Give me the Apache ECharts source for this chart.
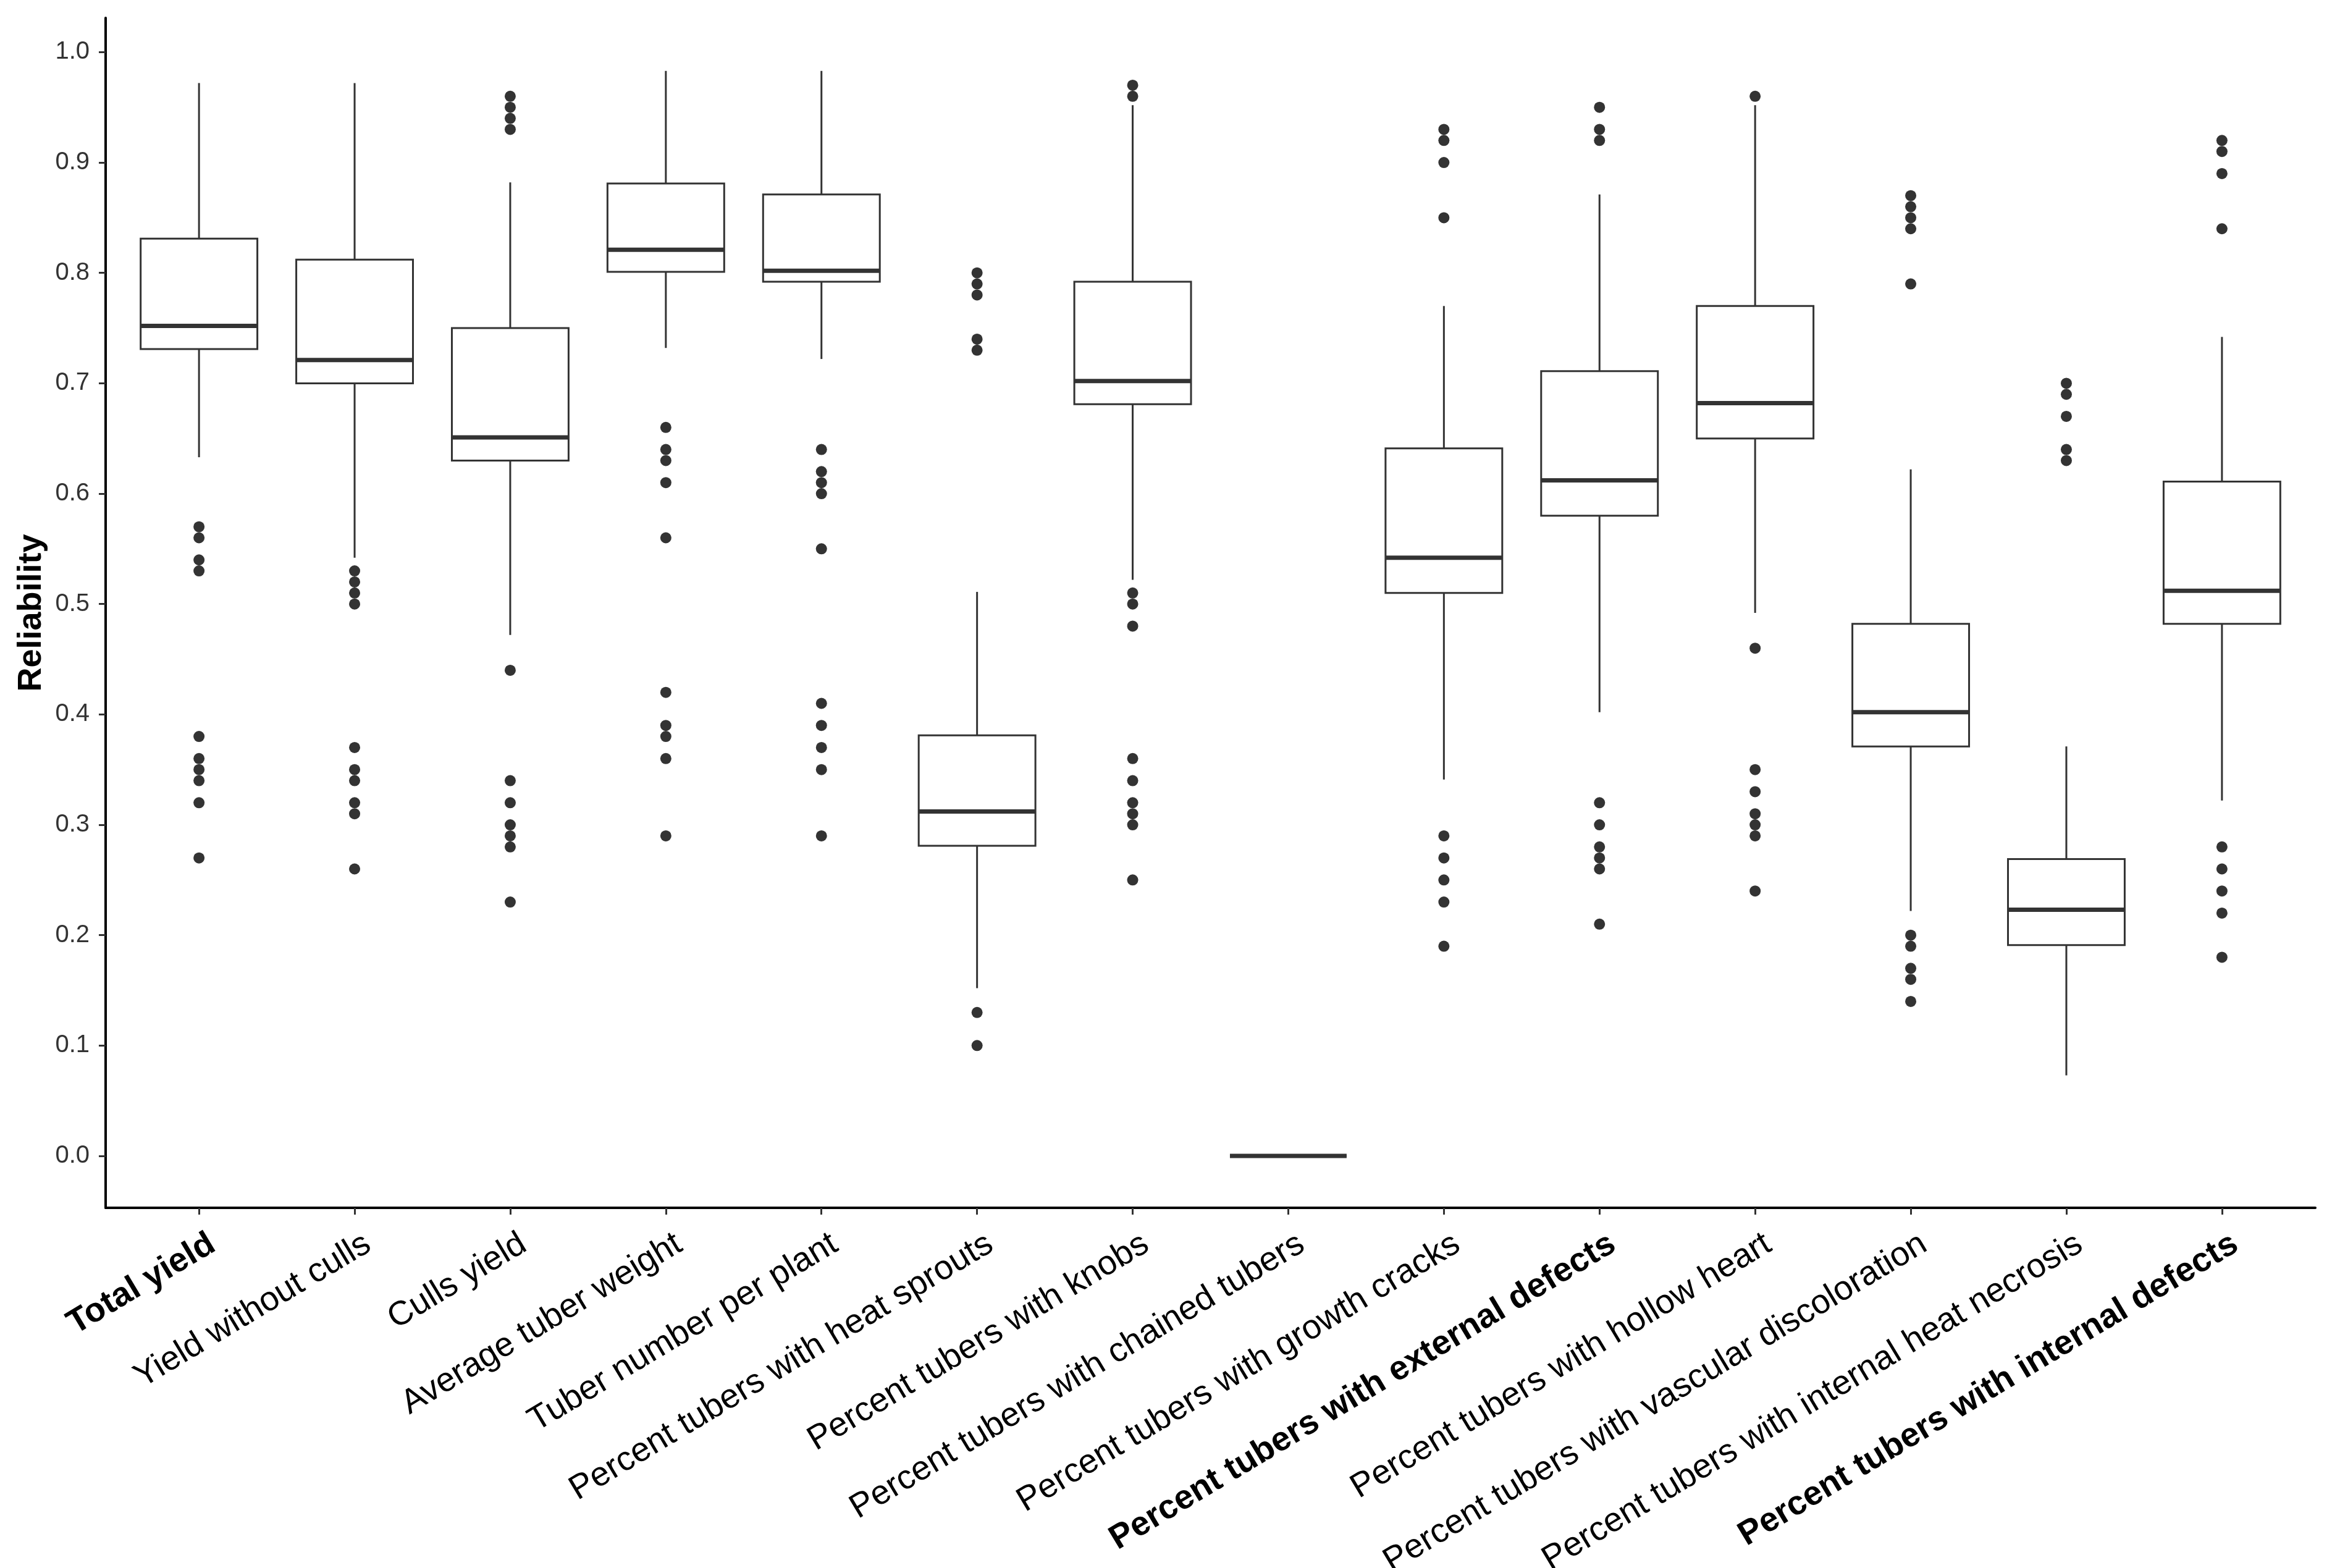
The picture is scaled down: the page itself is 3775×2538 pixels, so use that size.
<!DOCTYPE html>
<html>
<head>
<meta charset="utf-8">
<script src="https://cdn.jsdelivr.net/npm/echarts@6.0.0/dist/echarts.min.js"></script>
<style>
  html, body { margin: 0; padding: 0; background: #fff; }
  #chart { width: 3775px; height: 2538px; }
</style>
</head>
<body>
<div id="chart"></div>
<script>
// ---- Data ----
const categories = [
  'Total yield',
  'Yield without culls',
  'Culls yield',
  'Average tuber weight',
  'Tuber number per plant',
  'Percent tubers with heat sprouts',
  'Percent tubers with knobs',
  'Percent tubers with chained tubers',
  'Percent tubers with growth cracks',
  'Percent tubers with external defects',
  'Percent tubers with hollow heart',
  'Percent tubers with vascular discoloration',
  'Percent tubers with internal heat necrosis',
  'Percent tubers with internal defects'
];
const boldCategories = ['Total yield', 'Percent tubers with external defects', 'Percent tubers with internal defects'];

const whiskerLow  = [0.633, 0.542, 0.472, 0.732, 0.722, 0.152, 0.522, 0, 0.341, 0.402, 0.492, 0.222, 0.073, 0.322];
const q1          = [0.731, 0.700, 0.630, 0.801, 0.792, 0.281, 0.681, 0, 0.510, 0.580, 0.650, 0.371, 0.191, 0.482];
const median      = [0.752, 0.721, 0.651, 0.821, 0.802, 0.312, 0.702, 0, 0.542, 0.612, 0.682, 0.402, 0.223, 0.512];
const q3          = [0.831, 0.812, 0.750, 0.881, 0.871, 0.381, 0.792, 0, 0.641, 0.711, 0.770, 0.482, 0.269, 0.611];
const whiskerHigh = [0.972, 0.972, 0.882, 0.983, 0.983, 0.511, 0.952, 0, 0.770, 0.871, 0.952, 0.622, 0.371, 0.742];

const outliers = [
  [0.57, 0.56, 0.54, 0.53, 0.38, 0.36, 0.35, 0.34, 0.32, 0.27],
  [0.53, 0.52, 0.51, 0.50, 0.37, 0.35, 0.34, 0.32, 0.31, 0.26],
  [0.96, 0.95, 0.94, 0.93, 0.44, 0.34, 0.32, 0.30, 0.29, 0.28, 0.23],
  [0.66, 0.64, 0.63, 0.61, 0.56, 0.42, 0.39, 0.38, 0.36, 0.29],
  [0.64, 0.62, 0.61, 0.60, 0.55, 0.41, 0.39, 0.37, 0.35, 0.29],
  [0.80, 0.79, 0.78, 0.74, 0.73, 0.13, 0.10],
  [0.97, 0.96, 0.51, 0.50, 0.48, 0.36, 0.34, 0.32, 0.31, 0.30, 0.25],
  [],
  [0.93, 0.92, 0.90, 0.85, 0.29, 0.27, 0.25, 0.23, 0.19],
  [0.95, 0.93, 0.92, 0.32, 0.30, 0.28, 0.27, 0.26, 0.21],
  [0.96, 0.46, 0.35, 0.33, 0.31, 0.30, 0.29, 0.24],
  [0.87, 0.86, 0.85, 0.84, 0.79, 0.20, 0.19, 0.17, 0.16, 0.14],
  [0.70, 0.69, 0.67, 0.64, 0.63],
  [0.92, 0.91, 0.89, 0.84, 0.28, 0.26, 0.24, 0.22, 0.18]
];

const yTicks = [0, 0.1, 0.2, 0.3, 0.4, 0.5, 0.6, 0.7, 0.8, 0.9, 1.0];

// ---- Build series data ----
const boxData = categories.map((c, i) => [i, whiskerLow[i], q1[i], median[i], q3[i], whiskerHigh[i]]);
const outlierData = [];
outliers.forEach((list, i) => list.forEach(v => outlierData.push([i, v])));
const xTickValues = categories.map((c, i) => i);

// ---- Style constants ----
const INK = '#333333';
const FONT = '"Liberation Sans", Arial, sans-serif';
const BOX_WIDTH = 0.75;     // in category units
const LABEL_SHIFT = 0.03;   // small label offset along the axis (category units)

const chart = echarts.init(document.getElementById('chart'), null, { renderer: 'canvas' });

chart.setOption({
  animation: false,
  backgroundColor: '#ffffff',
  grid: { left: 171, right: 27, top: 29, bottom: 583, containLabel: false, outerBoundsMode: 'none' },
  xAxis: {
    type: 'value',
    min: -0.6,
    max: categories.length - 1 + 0.6,
    splitLine: { show: false },
    axisLine: { show: true, onZero: false, lineStyle: { color: '#000', width: 4 } },
    axisTick: { show: true, customValues: xTickValues, length: 11, lineStyle: { color: INK, width: 3 } },
    axisLabel: {
      show: true,
      customValues: xTickValues.map(v => v + LABEL_SHIFT),
      rotate: 31,
      align: 'right',
      verticalAlign: 'top',
      margin: 31,
      formatter: function (v) {
        const name = categories[Math.round(v - LABEL_SHIFT)];
        if (name === undefined) return '';
        return boldCategories.indexOf(name) >= 0 ? '{b|' + name + '}' : '{n|' + name + '}';
      },
      rich: {
        n: { fontFamily: FONT, fontSize: 55, color: '#000', fontWeight: 'normal' },
        b: { fontFamily: FONT, fontSize: 55, color: '#000', fontWeight: 'bold' }
      }
    }
  },
  yAxis: {
    type: 'value',
    min: -0.047,
    max: 1.031,
    name: 'Reliability',
    nameLocation: 'middle',
    nameGap: 92,
    nameRotate: 90,
    nameTextStyle: { fontFamily: FONT, fontSize: 54, fontWeight: 'bold', color: '#000' },
    splitLine: { show: false },
    axisLine: { show: true, onZero: false, lineStyle: { color: '#000', width: 4 } },
    axisTick: { show: true, customValues: yTicks, length: 11, lineStyle: { color: INK, width: 3 } },
    axisLabel: {
      show: true,
      customValues: yTicks,
      margin: 26,
      fontFamily: FONT,
      fontSize: 40,
      color: '#333',
      formatter: v => v.toFixed(1)
    }
  },
  series: [
    {
      type: 'custom',
      name: 'box',
      data: boxData,
      encode: { x: 0, y: [1, 2, 3, 4, 5] },
      z: 2,
      renderItem: function (params, api) {
        const x = api.value(0);
        const pLow = api.coord([x, api.value(1)]);
        const pQ1 = api.coord([x, api.value(2)]);
        const pMed = api.coord([x, api.value(3)]);
        const pQ3 = api.coord([x, api.value(4)]);
        const pHigh = api.coord([x, api.value(5)]);
        const half = api.size([BOX_WIDTH, 0])[0] / 2;
        const thin = { stroke: INK, lineWidth: 3, fill: null };
        return {
          type: 'group',
          children: [
            { type: 'line', shape: { x1: pLow[0], y1: pLow[1], x2: pQ1[0], y2: pQ1[1] }, style: thin },
            { type: 'line', shape: { x1: pQ3[0], y1: pQ3[1], x2: pHigh[0], y2: pHigh[1] }, style: thin },
            { type: 'rect', shape: { x: pQ3[0] - half, y: pQ3[1], width: 2 * half, height: pQ1[1] - pQ3[1] },
              style: { fill: '#ffffff', stroke: INK, lineWidth: 3 } },
            { type: 'line', shape: { x1: pMed[0] - half, y1: pMed[1], x2: pMed[0] + half, y2: pMed[1] },
              style: { stroke: INK, lineWidth: 7 } }
          ]
        };
      }
    },
    {
      type: 'scatter',
      name: 'outliers',
      data: outlierData,
      symbol: 'circle',
      symbolSize: 18,
      z: 3,
      itemStyle: { color: INK, opacity: 1 }
    }
  ]
});
</script>
</body>
</html>
